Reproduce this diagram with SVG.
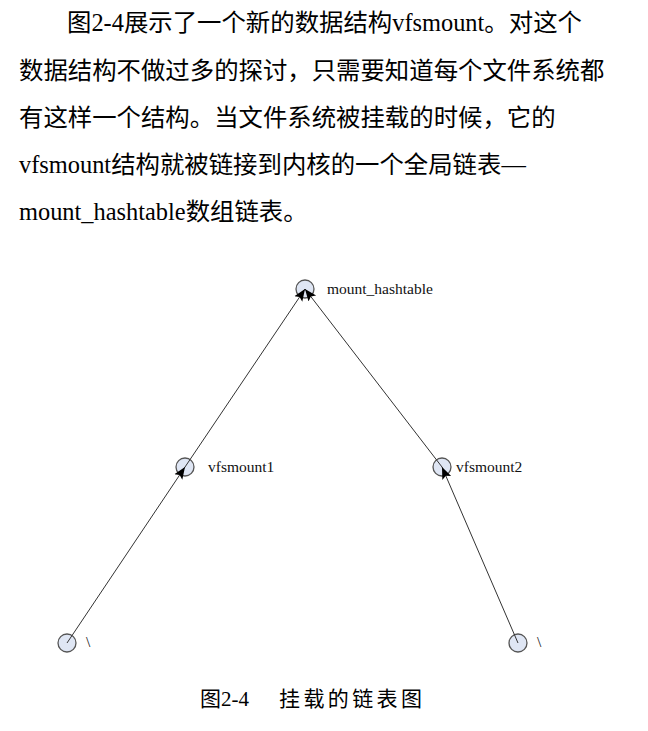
<svg xmlns="http://www.w3.org/2000/svg" width="648" height="731" viewBox="0 0 648 731">
<style>
.p{font-family:"Liberation Serif","Noto Sans CJK SC",serif;font-size:24.4px;fill:#000}
.l{font-family:"Liberation Serif",serif;font-size:15.5px;fill:#111}
.n{fill:#dfe6f4;stroke:#555;stroke-width:1.3}
.e{stroke:#333;stroke-width:1;fill:none;marker-end:url(#a)}
.c{font-family:"Liberation Serif","Noto Sans CJK SC",serif;font-size:21px;fill:#000}
</style>
<defs>
<marker id="a" viewBox="0 0 10 10" refX="10" refY="5" markerWidth="12" markerHeight="12" markerUnits="userSpaceOnUse" orient="auto">
<path d="M0,1 L10,5 L0,9 L2,5 z" fill="#000"/>
</marker>
</defs>
<rect width="648" height="731" fill="#fff"/>
<g id="text">
<text class="p" x="67" y="31">图2-4展示了一个新的数据结构vfsmount。对这个</text>
<text class="p" x="19" y="79">数据结构不做过多的探讨，只需要知道每个文件系统都</text>
<text class="p" x="19" y="126">有这样一个结构。当文件系统被挂载的时候，它的</text>
<text class="p" x="19" y="173">vfsmount结构就被链接到内核的一个全局链表—</text>
<text class="p" x="19" y="220">mount_hashtable数组链表。</text>
</g>
<g id="n-top"><circle class="n" cx="305" cy="289" r="9"/><text class="l" x="327" y="294">mount_hashtable</text></g>
<g id="n-v1"><circle class="n" cx="185" cy="467" r="9"/><text class="l" x="208" y="472">vfsmount1</text></g>
<g id="n-v2"><circle class="n" cx="442" cy="467" r="9"/><text class="l" x="456" y="472">vfsmount2</text></g>
<g id="n-b1"><circle class="n" cx="67" cy="643" r="9"/><text class="l" x="86" y="647">\</text></g>
<g id="n-b2"><circle class="n" cx="518" cy="643" r="9"/><text class="l" x="537" y="647">\</text></g>
<g id="edges">
<path class="e" d="M67,643 L185,467"/>
<path class="e" d="M185,467 L305,289"/>
<path class="e" d="M518,643 L442,467"/>
<path class="e" d="M442,467 L305,289"/>
</g>
<g id="caption">
<text class="c" x="200" y="706">图2-4</text>
<text class="c" x="279" y="706" letter-spacing="3.4">挂载的链表图</text>
</g>
</svg>
